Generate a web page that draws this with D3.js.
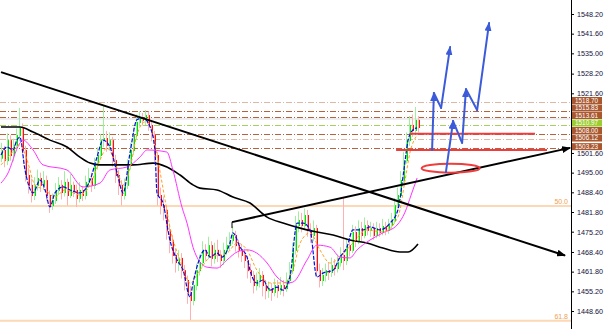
<!DOCTYPE html>
<html><head><meta charset="utf-8">
<script src="https://cdn.jsdelivr.net/npm/d3@7"></script>
<style>html,body{margin:0;padding:0;background:#fff;}svg{display:block;}</style>
</head><body>
<svg id="c" width="604" height="329"></svg>
<script>
// ---------- DATA ----------
const closes = [
1502.6,1499.2,1505.9,1500.9,1504.3,1507.6,1510.0,1502.6,1494.2,1490.9,
1487.5,1490.9,1493.2,1490.9,1492.5,1487.5,1484.1,1485.8,1489.2,1490.9,
1488.5,1491.9,1487.5,1490.9,1489.2,1486.5,1489.2,1487.5,1491.9,1493.2,
1490.9,1497.6,1500.9,1505.9,1506.6,1504.3,1505.9,1499.2,1494.2,1490.9,
1487.5,1490.9,1497.6,1502.6,1507.6,1512.0,1513.3,1512.7,1514.3,1511.0,
1507.6,1500.9,1487.5,1484.1,1482.5,1475.8,1472.4,1467.4,1465.0,1466.4,
1462.3,1459.0,1455.0,1452.3,1457.3,1462.3,1465.0,1469.1,1467.4,1470.7,
1466.4,1469.1,1467.4,1465.7,1469.1,1470.7,1472.4,1474.1,1470.7,1469.1,
1467.4,1465.7,1462.3,1460.7,1457.3,1459.0,1460.7,1457.3,1455.6,1456.3,
1455.0,1457.3,1455.6,1457.3,1456.3,1459.0,1462.3,1469.1,1477.4,1479.1,
1477.4,1480.8,1475.8,1474.1,1476.4,1462.3,1459.0,1460.7,1462.3,1461.7,
1464.0,1463.0,1465.0,1467.4,1465.7,1470.7,1469.1,1475.1,1472.4,1476.4,
1474.1,1477.4,1475.8,1476.4,1474.1,1476.4,1475.1,1477.1,1475.8,1477.4,
1479.1,1484.1,1487.5,1492.5,1499.2,1505.9,1511.0,1509.3,1512.7,1510.3];
const opens = [
1500.0,1502.6,1499.2,1505.9,1500.9,1504.3,1507.6,1510.0,1502.6,1494.2,
1490.9,1487.5,1490.9,1493.2,1490.9,1492.5,1487.5,1484.1,1485.8,1489.2,
1490.9,1488.5,1491.9,1487.5,1490.9,1489.2,1486.5,1489.2,1487.5,1491.9,
1493.2,1490.9,1497.6,1500.9,1505.9,1506.6,1504.3,1505.9,1499.2,1494.2,
1490.9,1487.5,1490.9,1497.6,1502.6,1507.6,1512.0,1513.3,1512.7,1514.3,
1511.0,1507.6,1500.9,1487.5,1484.1,1482.5,1475.8,1472.4,1467.4,1465.0,
1466.4,1462.3,1459.0,1455.0,1452.3,1457.3,1462.3,1465.0,1469.1,1467.4,
1470.7,1466.4,1469.1,1467.4,1465.7,1469.1,1470.7,1472.4,1474.1,1470.7,
1469.1,1467.4,1465.7,1462.3,1460.7,1457.3,1459.0,1460.7,1457.3,1455.6,
1456.3,1455.0,1457.3,1455.6,1457.3,1456.3,1459.0,1462.3,1469.1,1477.4,
1479.1,1477.4,1480.8,1475.8,1474.1,1476.4,1462.3,1459.0,1460.7,1462.3,
1461.7,1464.0,1463.0,1465.0,1467.4,1465.7,1470.7,1469.1,1475.1,1472.4,
1476.4,1474.1,1477.4,1475.8,1476.4,1474.1,1476.4,1475.1,1477.1,1475.8,
1477.4,1479.1,1484.1,1487.5,1492.5,1499.2,1505.9,1511.0,1509.3,1512.7];
const highs = [
1505.0,1504.0,1508.2,1507.5,1506.4,1509.8,1516.7,1511.5,1504.0,1496.5,
1493.0,1493.5,1496.0,1495.0,1495.5,1494.0,1489.0,1488.0,1491.5,1493.5,
1492.5,1495.5,1493.0,1494.5,1492.0,1491.0,1491.8,1490.5,1494.0,1496.5,
1495.0,1500.0,1503.5,1508.0,1517.7,1509.0,1508.5,1507.0,1501.0,1496.0,
1492.5,1493.0,1499.5,1505.0,1510.0,1514.5,1515.5,1515.0,1516.0,1515.5,
1512.5,1509.0,1502.0,1490.0,1487.0,1484.0,1478.0,1474.0,1469.5,1469.0,
1468.0,1464.0,1460.5,1457.0,1459.5,1464.5,1467.5,1472.0,1471.0,1473.5,
1472.0,1471.5,1472.5,1469.0,1471.5,1473.5,1475.0,1477.0,1475.5,1472.5,
1471.0,1469.5,1467.0,1464.5,1462.0,1461.5,1463.0,1462.0,1459.0,1458.5,
1458.0,1459.5,1459.0,1460.0,1459.0,1461.5,1465.0,1471.5,1480.5,1482.0,
1481.5,1483.0,1482.5,1478.0,1479.0,1477.5,1464.5,1463.0,1464.5,1465.0,
1466.5,1466.0,1467.5,1470.0,1486.8,1473.0,1473.0,1477.5,1477.0,1479.0,
1478.5,1480.0,1479.0,1478.5,1478.0,1478.5,1478.0,1479.5,1478.5,1479.5,
1481.5,1486.5,1490.0,1495.5,1502.0,1508.5,1514.0,1514.5,1517.0,1514.0];
const lows = [
1498.5,1496.8,1497.5,1499.0,1498.8,1503.0,1505.5,1500.8,1492.0,1488.0,
1485.0,1485.8,1489.0,1488.5,1489.5,1485.5,1481.5,1482.5,1484.5,1487.5,
1486.0,1487.0,1484.0,1486.5,1486.8,1483.5,1485.0,1485.5,1486.0,1490.0,
1488.5,1489.5,1496.0,1499.5,1503.5,1502.0,1502.5,1497.0,1491.5,1487.5,
1484.0,1486.0,1489.5,1496.0,1501.0,1506.0,1510.5,1510.8,1511.0,1509.0,
1505.5,1498.5,1484.0,1481.0,1479.0,1472.5,1468.0,1464.5,1461.5,1462.0,
1459.5,1455.5,1451.0,1445.6,1450.5,1455.5,1460.5,1463.5,1465.5,1466.0,
1463.5,1464.5,1465.0,1463.0,1464.0,1467.5,1469.0,1471.0,1468.5,1466.5,
1465.0,1463.0,1459.5,1458.0,1454.5,1455.5,1456.5,1453.5,1452.5,1453.0,
1452.0,1453.5,1453.0,1454.0,1453.5,1455.0,1457.5,1461.0,1467.5,1475.0,
1475.0,1476.0,1473.5,1471.5,1472.0,1460.0,1456.5,1457.0,1458.5,1459.0,
1460.0,1460.5,1461.5,1463.5,1462.3,1464.0,1467.0,1468.0,1470.0,1471.0,
1472.0,1473.0,1474.0,1473.5,1472.5,1473.0,1473.5,1474.0,1474.0,1474.5,
1476.0,1478.0,1483.0,1486.5,1491.0,1498.0,1504.0,1507.0,1508.0,1508.5];

// moving averages: [bar index, price]
const maFast = [[0,1500.9],[2,1503.6],[4,1502.6],[5.3,1505.9],[6.3,1506.9],[8,1495.9],[10.7,1488.2],[13,1492.5],[14.7,1489.2],[16.3,1483.5],[18,1488.2],[20.7,1490.2],[23,1489.2],[26.3,1488.2],[29.7,1492.5],[32,1500.2],[34,1505.9],[36.3,1503.6],[38.7,1494.9],[40.7,1488.2],[43,1501.6],[45.3,1512.7],[47.3,1513.3],[49.7,1510.3],[51.3,1502.6],[52,1488.2],[54,1484.8],[56.3,1472.4],[58.7,1465.7],[60.7,1462.3],[63,1453.3],[64,1458.0],[65.7,1464.7],[68,1469.1],[69.7,1466.7],[72,1468.0],[73.7,1466.7],[76.3,1471.4],[77.3,1474.8],[79.7,1470.0],[82,1466.7],[83,1462.3],[85.3,1458.0],[87.3,1459.0],[89.7,1455.6],[92,1456.6],[94,1455.6],[96.3,1460.0],[98.7,1478.1],[100.7,1478.1],[103,1475.8],[105.3,1460.0],[107.3,1461.3],[110.7,1462.3],[113,1466.7],[115.3,1470.0],[117.3,1475.8],[120.7,1475.8],[123,1476.8],[126.3,1475.8],[129.7,1478.1],[132.3,1482.5],[134.3,1495.9],[135.7,1505.9],[137.3,1509.3],[138.7,1510.0]];
const maMid = [[0,1497.6],[3,1500.9],[6.3,1504.3],[8.7,1499.2],[11.3,1490.9],[14.7,1489.2],[18,1486.8],[21.3,1489.2],[26.3,1487.5],[29.7,1490.9],[33,1499.2],[35.3,1503.3],[38,1498.6],[40.7,1490.9],[43,1496.6],[45.3,1507.6],[48,1512.0],[50.3,1509.3],[52.3,1499.2],[54.7,1485.8],[56.3,1476.8],[59.7,1465.7],[63,1458.0],[66.3,1462.3],[69.7,1466.7],[75.3,1468.0],[78.7,1471.4],[82,1469.1],[85.3,1462.3],[89.7,1458.0],[94,1458.0],[97.3,1462.3],[99.7,1471.4],[103,1474.8],[106.3,1469.1],[109.7,1464.7],[113,1466.7],[117.3,1471.4],[122,1475.8],[127.3,1475.1],[132.3,1480.1],[134.7,1492.5],[136.3,1501.6],[138.7,1507.6]];
const maSlow = [[0,1491.5],[2,1494.2],[6.3,1504.9],[7.3,1505.9],[10.7,1502.6],[14,1497.6],[22,1495.9],[27.3,1490.2],[33,1491.5],[36.3,1495.9],[42,1496.9],[46.3,1500.2],[48.7,1502.6],[55.3,1501.9],[57.3,1495.9],[60.3,1483.5],[62,1478.1],[64,1470.0],[65.3,1466.7],[68.7,1463.3],[72,1463.0],[75.3,1465.7],[78.7,1468.4],[82,1469.1],[85.3,1468.0],[88.7,1464.7],[92,1460.0],[95.3,1458.0],[97.3,1458.3],[102,1465.7],[105.3,1470.7],[109.7,1470.0],[113,1466.7],[116.3,1466.4],[118.7,1469.1],[123,1472.4],[127.3,1474.8],[132,1477.4],[134.7,1481.8],[136.7,1487.5],[138.7,1493.2]];
const maLong = [[0,1510.3],[6.3,1510.3],[10.7,1508.6],[16.3,1505.9],[22,1503.6],[26.3,1500.2],[29.7,1498.2],[33,1497.6],[38.7,1497.6],[44,1497.6],[50.7,1498.2],[55.3,1496.9],[59.7,1494.2],[64,1490.9],[66.3,1489.8],[72,1489.2],[77.3,1486.8],[83,1484.8],[88.7,1480.1],[94,1478.1],[99.7,1476.4],[105.3,1475.1],[110.7,1474.1],[116.3,1472.4],[122,1471.4],[127.3,1469.7],[133,1468.4],[135.7,1468.4],[139,1471.1]];

// right price axis
const tickValues = [1548.20,1541.60,1535.00,1528.20,1521.60,1501.60,1495.00,1488.40,1481.80,1475.20,1468.40,1461.80,1455.20,1448.60];
// horizontal price levels with their tags
const levelValues = [1518.70,1515.83,1513.61,1510.97,1508.00,1506.12,1503.23];
const levelKinds  = ["light","dark","dark","green","dark","light","dark"];
const bidLine = 1513.0;
// fibonacci
const fibValues = [1483.8,1445.3];
const fibLabels = ["50.0","61.8"];
// trendlines [[idx,price],[idx,price]]
const trendDown = [[0,1528.7],[188,1467.2]];
const trendUp   = [[77,1478.4],[189.7,1503.3]];
// annotations
const redLines = [[136.3,178,1508.0],[131.7,182,1502.6]];
const ellipse = {idx:149.9, price:1496.5, halfBars:9.7, halfPrice:1.5};
const arrowA = [[143.7,1502.6],[144.3,1521.7],[146.7,1516.7],[149.7,1537.1]];
const arrowB = [[148.3,1495.2],[150.7,1512.3],[153.7,1505.0],[155,1523.0],[158.7,1516.0],[162.7,1545.2]];

// ---------- DRAW ----------
const svg = d3.select("#c");
const W = 604, H = 329, AX = 571;
const x = d3.scaleLinear().domain([0,139]).range([1,418]);
const y = d3.scaleLinear().domain([1442.57,1552.89]).range([H,0]);

const defs = svg.append("defs");
function marker(id, color, w, h){
  defs.append("marker").attr("id",id).attr("viewBox",`0 0 ${w} ${h}`)
    .attr("refX",w-1).attr("refY",h/2).attr("markerWidth",w).attr("markerHeight",h)
    .attr("markerUnits","userSpaceOnUse").attr("orient","auto")
    .append("path").attr("d",`M0,0L${w},${h/2}L0,${h}Z`).attr("fill",color);
}
marker("ab","#3b5bd9",9,7);
marker("ak","#000",9,7);

// fib lines
fibValues.forEach((v,i)=>{
  svg.append("line").attr("x1",0).attr("x2",AX).attr("y1",y(v)).attr("y2",y(v))
    .attr("stroke","#fcd8b4").attr("stroke-width",2);
  svg.append("text").attr("x",AX-3).attr("y",y(v)-2).attr("text-anchor","end")
    .attr("font-family","Liberation Sans, Arial").attr("font-size",7).attr("fill","#f0a050").text(fibLabels[i]);
});

// level lines
const lvlColor = {dark:"#b4643c", light:"#ddb8a4", green:"#a8d060"};
svg.append("line").attr("x1",0).attr("x2",AX).attr("y1",y(bidLine)).attr("y2",y(bidLine))
  .attr("stroke","#dcdcdc").attr("stroke-width",1);
levelValues.forEach((v,i)=>{
  svg.append("line").attr("x1",0).attr("x2",AX).attr("y1",Math.round(y(v))+0.5).attr("y2",Math.round(y(v))+0.5)
    .attr("stroke",lvlColor[levelKinds[i]]).attr("stroke-width",1).attr("stroke-dasharray","6,2,1,2");
});

// bars
const bars = d3.range(closes.length);
svg.append("g").selectAll("line").data(bars).join("line")
  .attr("x1",i=>Math.round(x(i))+0.5).attr("x2",i=>Math.round(x(i))+0.5)
  .attr("y1",i=>y(highs[i])).attr("y2",i=>y(lows[i]))
  .attr("stroke",i=>closes[i]>=opens[i]?"#9ef09e":"#ffb0b0").attr("stroke-width",1);
svg.append("g").selectAll("line").data(bars).join("line")
  .attr("x1",i=>Math.round(x(i))+1.5).attr("x2",i=>Math.round(x(i))+1.5)
  .attr("y1",i=>y(Math.max(opens[i],closes[i]))).attr("y2",i=>y(Math.min(opens[i],closes[i]))+1)
  .attr("stroke",i=>closes[i]>=opens[i]?"#00e000":"#ff1010").attr("stroke-width",1);

// MAs
const line = d3.line().x(d=>x(d[0])).y(d=>y(d[1])).curve(d3.curveMonotoneX);
svg.append("path").datum(maLong).attr("d",line).attr("fill","none").attr("stroke","#000").attr("stroke-width",1.6);
svg.append("path").datum(maSlow).attr("d",line).attr("fill","none").attr("stroke","#ff33ff").attr("stroke-width",1);
svg.append("path").datum(maMid).attr("d",line).attr("fill","none").attr("stroke","#ffa020").attr("stroke-width",1).attr("stroke-dasharray","3,2");
svg.append("path").datum(maFast).attr("d",line).attr("fill","none").attr("stroke","#0010e0").attr("stroke-width",1.2).attr("stroke-dasharray","4,1.5");

// trendlines
[trendDown,trendUp].forEach(t=>{
  svg.append("line").attr("x1",x(t[0][0])).attr("y1",y(t[0][1])).attr("x2",x(t[1][0])).attr("y2",y(t[1][1]))
    .attr("stroke","#000").attr("stroke-width",2).attr("marker-end","url(#ak)");
});
svg.append("line").attr("x1",x(trendUp[0][0])).attr("x2",x(trendUp[0][0]))
  .attr("y1",y(trendUp[0][1])).attr("y2",y(trendUp[0][1]-2)).attr("stroke","#000").attr("stroke-width",1);

// red annotations
redLines.forEach(r=>{
  svg.append("line").attr("x1",x(r[0])).attr("x2",x(r[1])).attr("y1",y(r[2])).attr("y2",y(r[2]))
    .attr("stroke","#f03c3c").attr("stroke-width",2);
});
svg.append("ellipse").attr("cx",x(ellipse.idx)).attr("cy",y(ellipse.price))
  .attr("rx",x(ellipse.idx+ellipse.halfBars)-x(ellipse.idx))
  .attr("ry",y(ellipse.price-ellipse.halfPrice)-y(ellipse.price))
  .attr("fill","none").attr("stroke","#f03c3c").attr("stroke-width",2);

// blue arrows
[arrowA,arrowB].forEach(p=>{
  for(let k=0;k<p.length-1;k++){
    const up = p[k+1][1]>p[k][1];
    const l = svg.append("line").attr("x1",x(p[k][0])).attr("y1",y(p[k][1]))
      .attr("x2",x(p[k+1][0])).attr("y2",y(p[k+1][1]))
      .attr("stroke","#3b5bd9").attr("stroke-width",2).attr("stroke-linecap","round");
    if(up) l.attr("marker-end","url(#ab)");
  }
});

// axis
svg.append("rect").attr("x",AX).attr("y",0).attr("width",W-AX).attr("height",H).attr("fill","#fff");
const ax = svg.append("g").attr("transform",`translate(${AX},0)`)
  .call(d3.axisRight(y).tickValues(tickValues).tickFormat(d=>d.toFixed(2)).tickSize(3).tickPadding(3));
ax.select(".domain").remove();
ax.selectAll("text").attr("font-family","Liberation Sans, Arial").attr("font-size",7.2).attr("fill","#10103a");
svg.append("line").attr("x1",AX+0.5).attr("x2",AX+0.5).attr("y1",0).attr("y2",H).attr("stroke","#000").attr("stroke-width",1);

// level tags: stacked upward from the lowest so they do not overlap
const TAG_H = 7.5;
const order = d3.range(levelValues.length).sort((a,b)=>levelValues[a]-levelValues[b]);
const tagY = {};
let prev = Infinity;
order.forEach(i=>{
  let cy = Math.min(y(levelValues[i]) - 1.2, prev - TAG_H);
  tagY[i] = cy; prev = cy;
});
levelValues.forEach((v,i)=>{
  const cy = tagY[i];
  svg.append("rect").attr("x",AX+1).attr("y",cy-TAG_H/2).attr("width",30).attr("height",TAG_H-0.5)
    .attr("fill",levelKinds[i]==="green"?"#9acd32":"#a9572f");
  svg.append("text").attr("x",AX+4).attr("y",cy+2.2)
    .attr("font-family","Liberation Sans, Arial").attr("font-size",6.4).attr("fill","#fff").text(v.toFixed(2));
});
</script>
</body></html>
